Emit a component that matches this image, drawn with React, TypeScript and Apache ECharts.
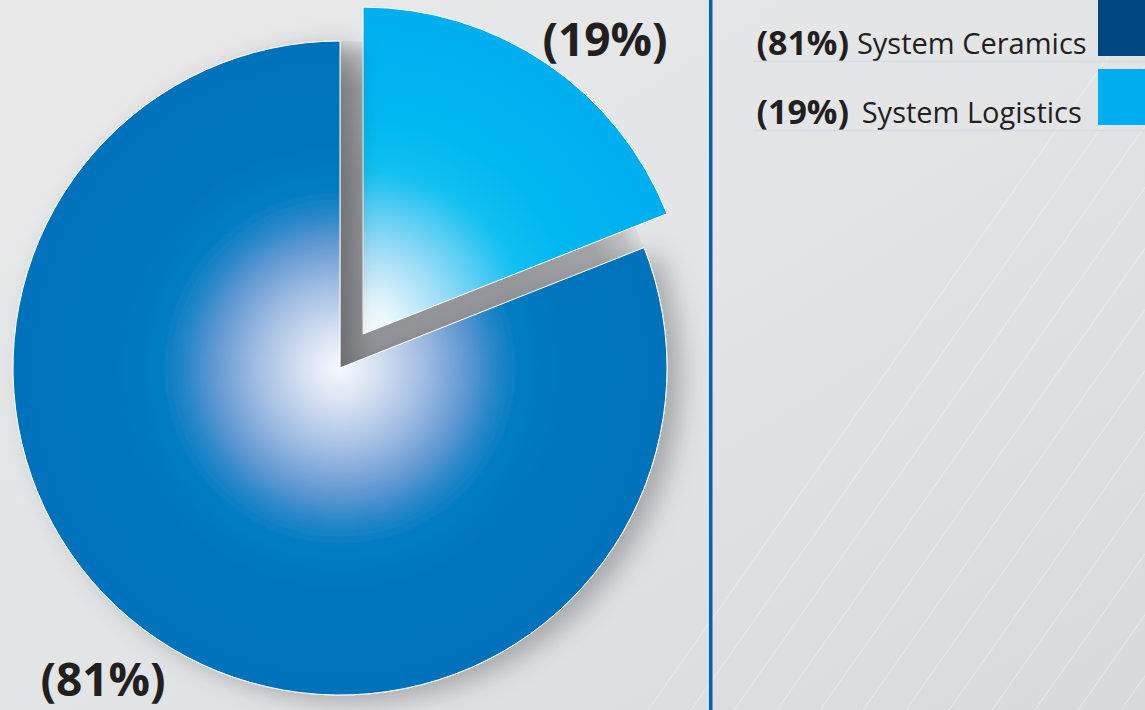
import React, { useEffect, useRef } from 'react';
import * as echarts from 'echarts';

// ---- data ----
const sliceNames = ['System Ceramics', 'System Logistics'];
const sliceShares = [81, 19];
const legendColors = ['#00467f', '#00aeef'];
const explodedName = 'System Logistics';
// drawing order: start with the exploded slice at 12 o'clock
const drawOrder = [1, 0];

// ---- layout ----
const W = 1145;
const H = 710;
const CX = 340;
const CY = 368;
const R = 327;

function radial(stops: [number, string][]) {
  return {
    type: 'radial',
    x: CX,
    y: CY,
    r: R,
    global: true,
    colorStops: stops.map(([offset, color]) => ({ offset, color })),
  };
}

const bigFill = radial([
  [0, '#f6f8fc'],
  [0.1, '#dbe4f3'],
  [0.25, '#a3bee3'],
  [0.38, '#6499d3'],
  [0.47, '#2887c9'],
  [0.55, '#007cc3'],
  [0.7, '#0075be'],
  [1, '#0072bc'],
]);

const smallFill = radial([
  [0, '#ffffff'],
  [0.1, '#e6f6fd'],
  [0.25, '#a4def7'],
  [0.4, '#4fcbf3'],
  [0.5, '#12c0f1'],
  [0.65, '#00b8f0'],
  [1, '#00aeef'],
]);

const grayFill = radial([
  [0, '#909295'],
  [0.6, '#96989b'],
  [0.86, '#a2a4a6'],
  [0.95, '#bfc0c2'],
  [1, '#dcdddf'],
]);

export default function App() {
  const ref = useRef<HTMLDivElement>(null);

  useEffect(() => {
    if (!ref.current) return;
    const chart = echarts.init(ref.current, undefined, { renderer: 'svg', width: W, height: H });

    const mainData = drawOrder.map((i) => ({
      name: sliceNames[i],
      value: sliceShares[i],
      selected: sliceNames[i] === explodedName,
      itemStyle:
        sliceNames[i] === explodedName
          ? { color: smallFill }
          : {
              color: bigFill,
              shadowBlur: 26,
              shadowColor: 'rgba(0,0,0,0.26)',
              shadowOffsetX: 14,
              shadowOffsetY: 6,
            },
    }));

    const shadowData = drawOrder.map((i) => ({
      name: sliceNames[i],
      value: sliceShares[i],
      itemStyle: { color: sliceNames[i] === explodedName ? grayFill : 'rgba(0,0,0,0)' },
    }));

    const labelData = drawOrder.map((i) => ({
      name: sliceNames[i],
      value: sliceShares[i],
      itemStyle: { color: 'rgba(0,0,0,0)' },
    }));

    const lines: any[] = [];
    for (let k = 0; k < 12; k++) {
      const xb = 648 + 43 * k;
      lines.push({
        type: 'line',
        silent: true,
        z: -9,
        shape: { x1: xb, y1: H, x2: xb + 500, y2: 0 },
        style: { stroke: 'rgba(255,255,255,0.4)', lineWidth: 1 },
      });
    }

    const common = {
      type: 'pie',
      center: [CX, CY],
      radius: R,
      startAngle: 90,
      clockwise: true,
      emphasis: { disabled: true },
      labelLine: { show: false },
    };

    const option: any = {
      animation: false,
      graphic: [
        {
          type: 'rect',
          silent: true,
          z: -10,
          shape: { x: 0, y: 0, width: W, height: H },
          style: {
            fill: {
              type: 'linear',
              x: 0,
              y: 0,
              x2: 1,
              y2: 1,
              colorStops: [
                { offset: 0, color: '#e9e9ea' },
                { offset: 0.5, color: '#e3e4e5' },
                { offset: 1, color: '#d8d9db' },
              ],
            },
          },
        },
        ...lines,
        {
          type: 'rect',
          silent: true,
          z: 5,
          shape: { x: 709, y: 0, width: 3.5, height: H },
          style: { fill: '#0a5eb4' },
        },
        {
          type: 'line',
          silent: true,
          z: 5,
          shape: { x1: 753, y1: 61.5, x2: W, y2: 61.5 },
          style: { stroke: '#d2dbe8', lineWidth: 1.5 },
        },
        {
          type: 'line',
          silent: true,
          z: 5,
          shape: { x1: 753, y1: 130.5, x2: W, y2: 130.5 },
          style: { stroke: '#d2dbe8', lineWidth: 1.5 },
        },
      ],
      legend: {
        orient: 'vertical',
        right: 0,
        top: 0,
        align: 'right',
        padding: 0,
        itemWidth: 47,
        itemHeight: 56,
        itemGap: 10,
        icon: 'rect',
        selectedMode: false,
        data: sliceNames.map((n, i) => ({
          name: n,
          icon: 'rect',
          itemStyle: { color: legendColors[i], borderWidth: 0 },
        })),
        formatter: (name: string) => {
          const i = sliceNames.indexOf(name);
          return `{b|(${sliceShares[i]}%)}{n| ${name}}`;
        },
        textStyle: {
          color: '#231f20',
          fontFamily: 'Open Sans',
          padding: [31, 6, 3, 0],
          rich: {
            b: { fontSize: 34, lineHeight: 22, fontWeight: 'bold', fontFamily: 'Open Sans', color: '#231f20' },
            n: {
              fontSize: 29,
              lineHeight: 22,
              width: 238,
              align: 'left',
              fontFamily: 'Open Sans',
              color: '#231f20',
            },
          },
        },
      },
      series: [
        {
          ...common,
          name: 'shadow',
          silent: true,
          z: 1,
          legendHoverLink: false,
          label: { show: false },
          itemStyle: { borderWidth: 0 },
          data: shadowData,
        },
        {
          ...common,
          name: 'Share',
          z: 2,
          selectedMode: 'single',
          selectedOffset: 41,
          itemStyle: { borderColor: '#ffffff', borderWidth: 1 },
          label: { show: false },
          data: mainData,
        },
        {
          ...common,
          name: 'labels',
          silent: true,
          z: 3,
          legendHoverLink: false,
          itemStyle: { borderWidth: 0 },
          label: {
            show: true,
            position: 'outside',
            formatter: '({c}%)',
            overflow: 'none',
            fontFamily: 'Open Sans',
            fontWeight: 'bold',
            fontSize: 46,
            color: '#231f20',
          },
          labelLayout: (p: any) =>
            p.dataIndex === 0
              ? { x: 605, y: 38, align: 'center', verticalAlign: 'middle' }
              : { x: 103, y: 678, align: 'center', verticalAlign: 'middle' },
          data: labelData,
        },
      ],
    };

    chart.setOption(option);
    return () => chart.dispose();
  }, []);

  return (
    <div
      ref={ref}
      style={{ position: 'absolute', left: 0, top: 0, width: W, height: H }}
    />
  );
}
